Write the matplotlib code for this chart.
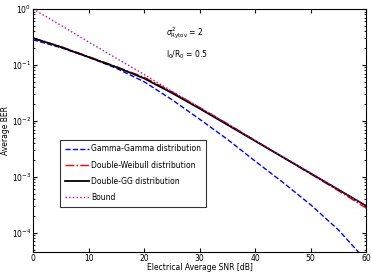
import numpy as np
import matplotlib.pyplot as plt

# SNR grid (dB) and log10(BER)
snr = [0, 5, 10, 15, 20, 25, 30, 35, 40, 45, 50, 55, 60]
gg_log = [-0.55, -0.69, -0.86, -1.06, -1.3, -1.62, -1.97, -2.33, -2.72, -3.1, -3.5, -3.95, -4.5]
dw_log = [-0.52, -0.67, -0.85, -1.03, -1.22, -1.48, -1.76, -2.05, -2.35, -2.65, -2.95, -3.25, -3.56]
dgg_log = [-0.52, -0.68, -0.86, -1.04, -1.24, -1.5, -1.78, -2.07, -2.36, -2.65, -2.94, -3.23, -3.52]
bound_log = [0.0, -0.29, -0.59, -0.88, -1.17, -1.47, -1.76, -2.05, -2.35, -2.64, -2.93, -3.23, -3.52]

fs = 5.5
plt.rcParams['font.family'] = 'DejaVu Sans'

fig = plt.figure(figsize=(3.71, 2.73), dpi=100)
ax = fig.add_axes([0.089, 0.078, 0.898, 0.889])

ax.semilogy(snr, 10 ** np.array(gg_log), 'b--', lw=1.0, label='Gamma-Gamma distribution')
ax.semilogy(snr, 10 ** np.array(dw_log), 'r-.', lw=1.0, label='Double-Weibull distribution')
ax.semilogy(snr, 10 ** np.array(dgg_log), 'k-', lw=1.3, label='Double-GG distribution')
ax.semilogy(snr, 10 ** np.array(bound_log), 'm:', lw=1.0, label='Bound')

ax.set_xlim(0, 60)
ax.set_ylim(10 ** -4.34, 1)
ax.set_xticks([0, 10, 20, 30, 40, 50, 60])
ax.tick_params(which='both', direction='in', top=True, right=True, labelsize=fs, length=3, pad=1.5)
ax.tick_params(which='minor', length=1.5)
ax.set_xlabel('Electrical Average SNR [dB]', fontsize=fs, labelpad=0)
ax.set_ylabel('Average BER', fontsize=fs, labelpad=0)
ax.yaxis.set_label_coords(-0.07, 0.5)

ax.text(24, 10 ** -0.43, r'$\sigma^2_{\mathrm{Rytov}}$ = 2', fontsize=fs, va='center')
ax.text(24, 10 ** -0.82, r'I$_0$/R$_0$ = 0.5', fontsize=fs, va='center')

leg = ax.legend(loc='lower left', bbox_to_anchor=(0.07, 0.17), fontsize=fs,
                fancybox=False, edgecolor='k', handlelength=3.2, handletextpad=0.3,
                labelspacing=0.95, borderpad=0.6)
leg.get_frame().set_linewidth(0.8)

fig.savefig('out.png', dpi=100)
